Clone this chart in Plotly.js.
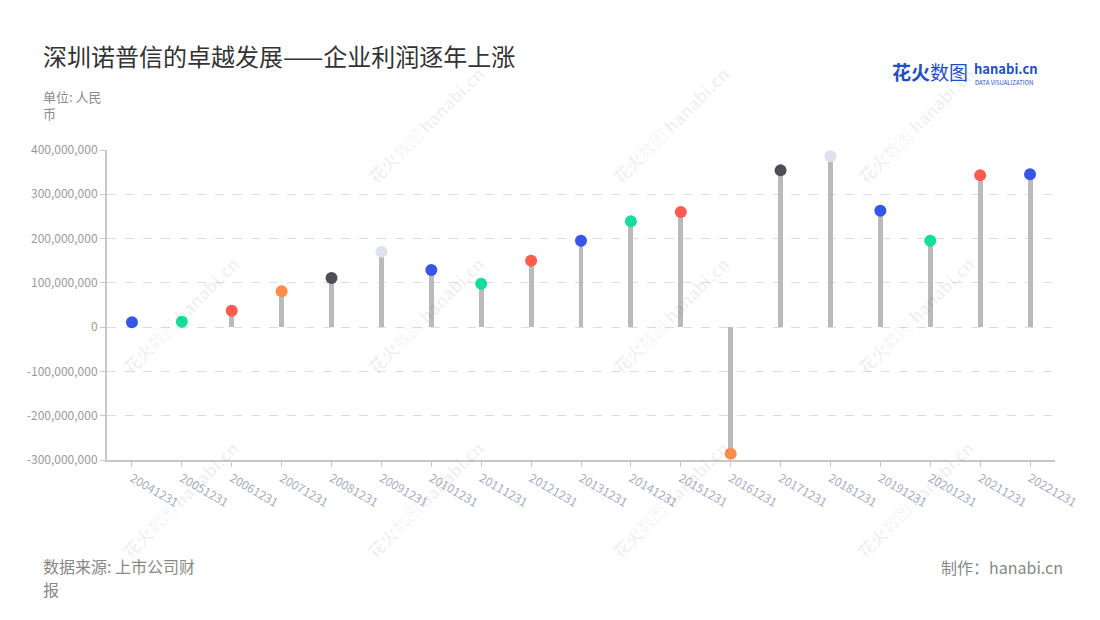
<!DOCTYPE html>
<html>
<head>
<meta charset="utf-8">
<script src="https://cdn.plot.ly/plotly-3.0.1.min.js"></script>
<style>html,body{margin:0;padding:0;background:#fff;}#chart{width:1100px;height:620px;}</style>
</head>
<body>
<div id="chart"></div>
<script>
const categories = ["20041231","20051231","20061231","20071231","20081231","20091231","20101231","20111231","20121231","20131231","20141231","20151231","20161231","20171231","20181231","20191231","20201231","20211231","20221231"];
const profits = [11000000, 12000000, 37000000, 81000000, 111000000, 170000000, 129000000, 98000000, 150000000, 195000000, 239000000, 260000000, -286000000, 354000000, 386000000, 263000000, 195000000, 343000000, 345000000];
const dotColors = ["#3656e8","#18dc9c","#ff5b4f","#ff8b4d","#4e4d58","#dde2ec","#3656e8","#18dc9c","#ff5b4f","#3656e8","#18dc9c","#ff5b4f","#ff8b4d","#4e4d58","#dde2ec","#3656e8","#18dc9c","#ff5b4f","#3656e8"];
const yTickVals = [-300000000,-200000000,-100000000,0,100000000,200000000,300000000,400000000];
const yTickText = ["-300,000,000","-200,000,000","-100,000,000","0","100,000,000","200,000,000","300,000,000","400,000,000"];

const FONT = '"Noto Sans CJK SC", "Noto Sans", sans-serif';

const stems = {
  type: 'bar', x: categories, y: profits, width: 0.1,
  marker: {color: '#bababa'}, hoverinfo: 'skip', showlegend: false
};
const dots = {
  type: 'scatter', mode: 'markers', x: categories, y: profits,
  marker: {color: dotColors, size: 12}, showlegend: false, cliponaxis: false
};

function px(text, x, y, opts) {
  return Object.assign({
    text: text, xref: 'paper', yref: 'paper',
    x: (x - 107) / (1055 - 107), y: (460 - y) / (460 - 150),
    showarrow: false, borderpad: 0
  }, opts);
}
const ann = [
  px('深圳诺普信的卓越发展——企业利润逐年上涨', 42, 55, {xanchor: 'left', yanchor: 'middle', font: {size: 24, color: '#333333', family: FONT}}),
  px('单位: 人民', 42, 96, {xanchor: 'left', yanchor: 'middle', font: {size: 13, color: '#8a8a8a', family: FONT}}),
  px('币', 42, 113, {xanchor: 'left', yanchor: 'middle', font: {size: 13, color: '#8a8a8a', family: FONT}}),
  px('数据来源: 上市公司财', 42, 566, {xanchor: 'left', yanchor: 'middle', font: {size: 16, color: '#888888', family: FONT}}),
  px('报', 42, 589, {xanchor: 'left', yanchor: 'middle', font: {size: 16, color: '#888888', family: FONT}}),
  px('制作：hanabi.cn', 1064, 567, {xanchor: 'right', yanchor: 'middle', font: {size: 16, color: '#888888', family: FONT}}),
  px('<b>花火</b>数图', 891, 72, {xanchor: 'left', yanchor: 'middle', font: {size: 19, color: '#1f4fc4', family: FONT}}),
  px('<b>hanabi.cn</b>', 973, 68, {xanchor: 'left', yanchor: 'middle', font: {size: 13, color: '#1f4fc4', family: FONT}}),
  px('DATA VISUALIZATION', 974, 82, {xanchor: 'left', yanchor: 'middle', font: {size: 6, color: '#1f4fc4', family: FONT}})
];
const wmCenters = [[425,125],[670,125],[915,125],[180,315],[425,315],[670,315],[915,315],[180,500],[425,500],[670,500],[915,500]];
wmCenters.forEach(c => {
  ann.push(px('<b>花火</b>数图 <b>hanabi.cn</b>', c[0], c[1], {xanchor: 'center', yanchor: 'middle', textangle: -45, font: {size: 17, color: 'rgba(0,0,0,0.06)', family: FONT}}));
});

const layout = {
  width: 1100, height: 620,
  margin: {l: 107, r: 45, t: 150, b: 160},
  paper_bgcolor: '#ffffff', plot_bgcolor: '#ffffff',
  font: {family: FONT},
  bargap: 0,
  xaxis: {
    type: 'category', tickangle: 30, range: [-0.5, 18.5],
    tickfont: {size: 12, color: '#a8aec2', family: FONT},
    showgrid: false, showline: true, linecolor: '#c8c8c8', linewidth: 2,
    ticks: 'outside', ticklen: 5, tickcolor: '#c8c8c8', tickwidth: 1,
    zeroline: false, fixedrange: true
  },
  yaxis: {
    range: [-300000000, 400000000], tickvals: yTickVals, ticktext: yTickText,
    tickfont: {size: 12, color: '#9a9a9a', family: FONT},
    showgrid: true, gridcolor: '#dddddd', griddash: 'dash', gridwidth: 1,
    zeroline: false,
    showline: true, linecolor: '#c8c8c8', linewidth: 2,
    ticks: 'outside', ticklen: 5, tickcolor: '#c8c8c8', tickwidth: 1,
    fixedrange: true
  },
  annotations: ann
};
Plotly.newPlot('chart', [stems, dots], layout, {displayModeBar: false, staticPlot: true});
</script>
</body>
</html>
